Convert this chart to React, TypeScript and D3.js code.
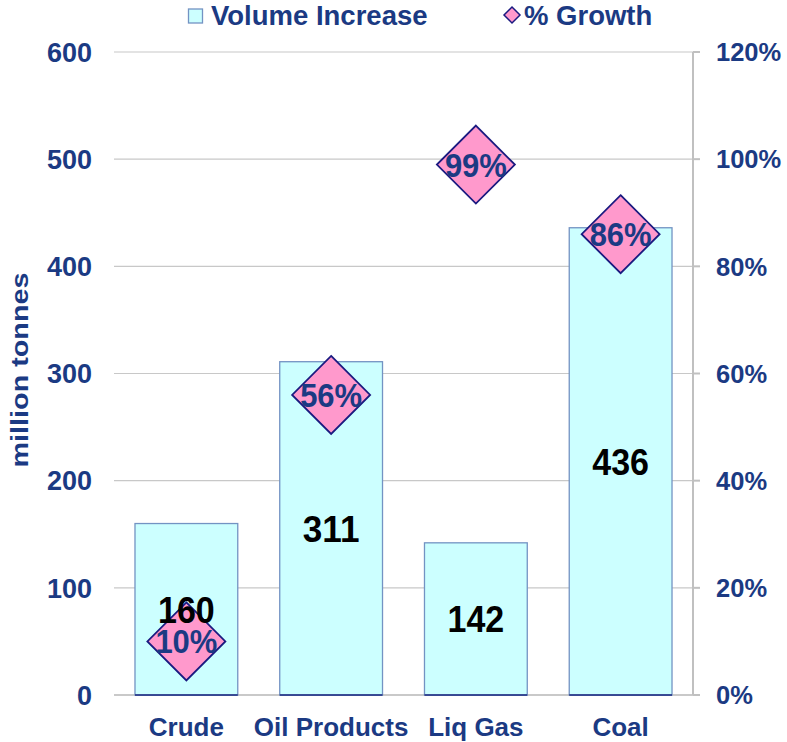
import React from "react";
import * as d3 from "d3";

const categories = ["Crude", "Oil Products", "Liq Gas", "Coal"];
const volumes = [160, 311, 142, 436];
const growth = [10, 56, 99, 86];
const leftTicks = [0, 100, 200, 300, 400, 500, 600];
const rightTicks = [0, 20, 40, 60, 80, 100, 120];

const W = 787;
const H = 742;
const margin = { left: 114, right: 94, top: 52, bottom: 47 };
const x0 = margin.left;
const x1 = W - margin.right;
const y0 = H - margin.bottom;
const y1 = margin.top;

const BLUE = "#1b3a83";
const FONT = "'Liberation Sans', Arial, sans-serif";

export default function App() {
  const x = d3.scaleBand<string>().domain(categories).range([x0, x1]).paddingInner(0.29).paddingOuter(0.145);
  const yL = d3.scaleLinear().domain([0, 600]).range([y0, y1]);
  const yR = d3.scaleLinear().domain([0, 120]).range([y0, y1]);
  const d = 39;
  return (
    <svg width={W} height={H} style={{ position: "absolute", left: 0, top: 0 }} fontFamily={FONT}>
      <rect width={W} height={H} fill="#fff" />
      {leftTicks.map((t) => (
        <line key={t} x1={x0} x2={x1} y1={yL(t)} y2={yL(t)} stroke="#c8c8c8" strokeWidth={1.2} />
      ))}
      <line x1={x1} x2={x1} y1={y1} y2={y0} stroke="#c0c0c0" strokeWidth={2} />
      {rightTicks.map((t) => (
        <line key={t} x1={x1} x2={x1 + 7} y1={yR(t)} y2={yR(t)} stroke="#c0c0c0" strokeWidth={2} />
      ))}
      <line x1={x0} x2={x1 + 7} y1={y0} y2={y0} stroke="#c0c0c0" strokeWidth={1.5} />
      {categories.map((c, i) => (
        <g key={c}>
          <rect x={x(c)} y={yL(volumes[i])} width={x.bandwidth()} height={y0 - yL(volumes[i])} fill="#ccffff" stroke="#7393c3" strokeWidth={1.3} />
          <line x1={x(c)} x2={(x(c) as number) + x.bandwidth()} y1={y0} y2={y0} stroke="#1a2a80" strokeWidth={1.5} />
        </g>
      ))}
      {categories.map((c, i) => {
        const cx = (x(c) as number) + x.bandwidth() / 2;
        const cy = yR(growth[i]);
        return (
          <path key={"d" + c} d={`M${cx},${cy - d}L${cx + d},${cy}L${cx},${cy + d}L${cx - d},${cy}Z`} fill="#ff99cc" stroke="#1a1a80" strokeWidth={1.8} />
        );
      })}
      {categories.map((c, i) => {
        const s = String(volumes[i]);
        return (
          <text key={"v" + c} x={(x(c) as number) + x.bandwidth() / 2} y={yL(volumes[i] / 2) + 13.5} textAnchor="middle" fontSize={36} fontWeight="bold" fill="#000" textLength={s.length * 0.556 * 34} lengthAdjust="spacingAndGlyphs">
            {s}
          </text>
        );
      })}
      {categories.map((c, i) => {
        const cx = (x(c) as number) + x.bandwidth() / 2;
        const cy = yR(growth[i]);
        return (
          <text key={"p" + c} x={cx} y={cy + 12} textAnchor="middle" fontSize={33} fontWeight="bold" fill={BLUE} textLength={62} lengthAdjust="spacingAndGlyphs">
            {growth[i]}%
          </text>
        );
      })}
      {leftTicks.map((t) => (
        <text key={"l" + t} x={92} y={yL(t)} dy="0.36em" textAnchor="end" fontSize={27} fontWeight="bold" fill={BLUE}>
          {t}
        </text>
      ))}
      {rightTicks.map((t) => (
        <text key={"r" + t} x={716} y={yR(t)} dy="0.36em" textAnchor="start" fontSize={25.5} fontWeight="bold" fill={BLUE}>
          {t}%
        </text>
      ))}
      {categories.map((c) => (
        <text key={"c" + c} x={(x(c) as number) + x.bandwidth() / 2} y={736} textAnchor="middle" fontSize={26} fontWeight="bold" fill={BLUE}>
          {c}
        </text>
      ))}
      <text transform={`translate(28,370) rotate(-90)`} textAnchor="middle" fontSize={23} fontWeight="bold" fill={BLUE} textLength={195} lengthAdjust="spacingAndGlyphs">
        million tonnes
      </text>
      <rect x={188.5} y={9} width={14} height={14} fill="#ccffff" stroke="#7393c3" strokeWidth={1.3} />
      <text x={211} y={25} fontSize={27.5} fontWeight="bold" fill={BLUE}>Volume Increase</text>
      <path d="M512,7L520,15L512,23L504,15Z" fill="#ff99cc" stroke="#1a1a80" strokeWidth={1.5} />
      <text x={524} y={25} fontSize={27.5} fontWeight="bold" fill={BLUE}>% Growth</text>
    </svg>
  );
}
